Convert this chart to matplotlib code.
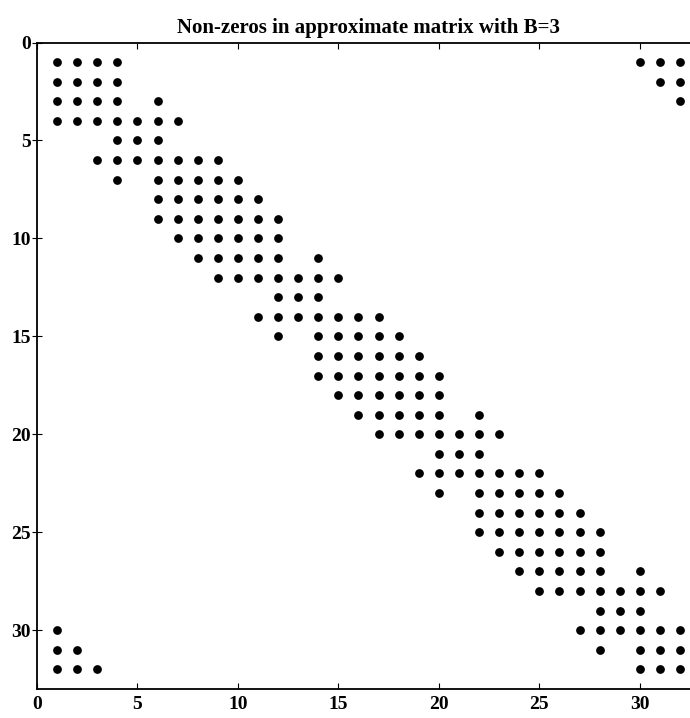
import matplotlib
matplotlib.use("Agg")
import matplotlib.pyplot as plt
import numpy as np

# non-zero column indices for each row (1-based, MATLAB-style spy plot)
n = 32
nonzero_cols = {
    1: [1, 2, 3, 4, 30, 31, 32],
    2: [1, 2, 3, 4, 31, 32],
    3: [1, 2, 3, 4, 6, 32],
    4: [1, 2, 3, 4, 5, 6, 7],
    5: [4, 5, 6],
    6: [3, 4, 5, 6, 7, 8, 9],
    7: [4, 6, 7, 8, 9, 10],
    8: [6, 7, 8, 9, 10, 11],
    9: [6, 7, 8, 9, 10, 11, 12],
    10: [7, 8, 9, 10, 11, 12],
    11: [8, 9, 10, 11, 12, 14],
    12: [9, 10, 11, 12, 13, 14, 15],
    13: [12, 13, 14],
    14: [11, 12, 13, 14, 15, 16, 17],
    15: [12, 14, 15, 16, 17, 18],
    16: [14, 15, 16, 17, 18, 19],
    17: [14, 15, 16, 17, 18, 19, 20],
    18: [15, 16, 17, 18, 19, 20],
    19: [16, 17, 18, 19, 20, 22],
    20: [17, 18, 19, 20, 21, 22, 23],
    21: [20, 21, 22],
    22: [19, 20, 21, 22, 23, 24, 25],
    23: [20, 22, 23, 24, 25, 26],
    24: [22, 23, 24, 25, 26, 27],
    25: [22, 23, 24, 25, 26, 27, 28],
    26: [23, 24, 25, 26, 27, 28],
    27: [24, 25, 26, 27, 28, 30],
    28: [25, 26, 27, 28, 29, 30, 31],
    29: [28, 29, 30],
    30: [1, 27, 28, 29, 30, 31, 32],
    31: [1, 2, 28, 30, 31, 32],
    32: [1, 2, 3, 30, 31, 32],
}
title = "Non-zeros in approximate matrix with B=3"
ticks = [0, 5, 10, 15, 20, 25, 30]

rows = np.concatenate([[r] * len(c) for r, c in nonzero_cols.items()])
cols = np.concatenate([c for c in nonzero_cols.values()])

plt.rcParams["font.family"] = ["Liberation Serif", "DejaVu Serif"]
plt.rcParams["font.weight"] = "bold"

fig = plt.figure(figsize=(6.9, 7.18), dpi=100)
# axes run past the right edge of the figure, as in the cropped scan
ax = fig.add_axes([0.0536, 0.0404, 0.961, 0.9004])
ax.plot(cols, rows, linestyle="none", marker="o", markersize=6.3,
        color="black", markeredgewidth=0)
ax.set_xlim(0, n + 1)
ax.set_ylim(n + 1, 0)
ax.set_xticks(ticks)
ax.set_yticks(ticks)
ax.tick_params(axis="x", direction="in", length=4, labelsize=14, pad=5)
ax.tick_params(axis="y", direction="inout", length=7, labelsize=14, pad=1)
ax.tick_params(top=True, right=False, labeltop=False)
for s in ax.spines.values():
    s.set_linewidth(1.3)
ax.set_title(title, fontsize=15, fontweight="bold", pad=7)

fig.savefig("out.png", dpi=100)
